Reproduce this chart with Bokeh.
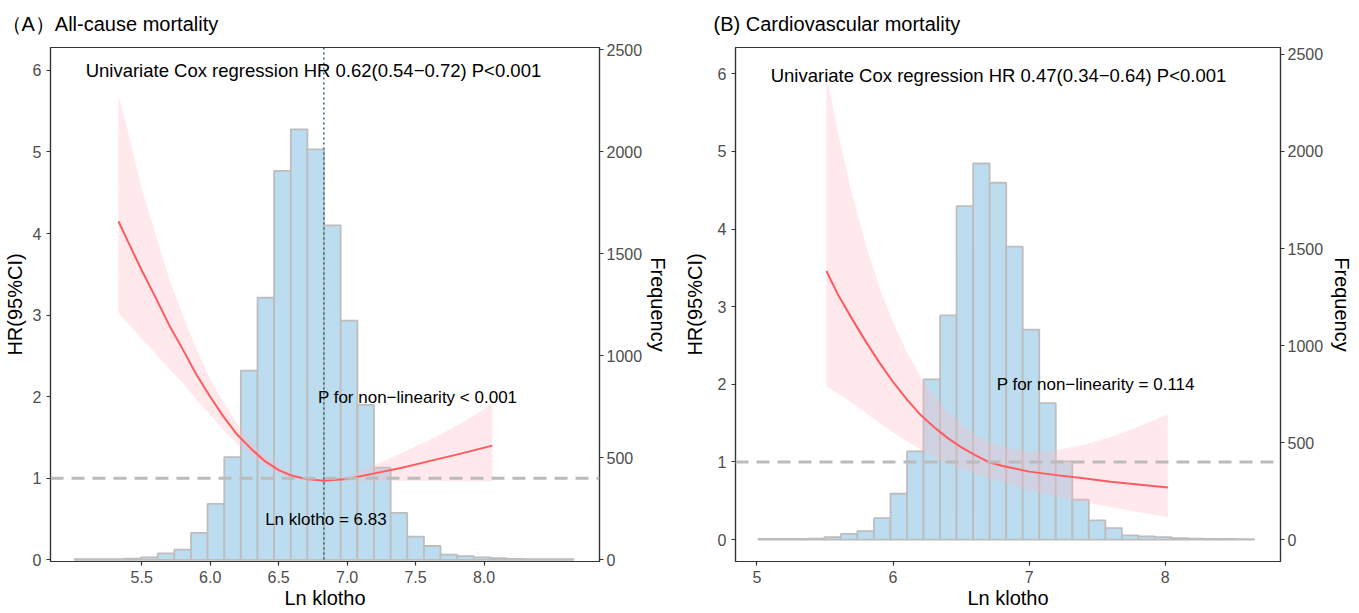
from bokeh.plotting import figure
from bokeh.models import Range1d, LinearAxis, FixedTicker, Span, Label, PrintfTickFormatter
from bokeh.layouts import row
from bokeh.embed import file_html
from bokeh.resources import INLINE

FONT = "Liberation Sans"

# ---------------- data ----------------
bin_edges = [5.009, 5.131, 5.252, 5.374, 5.495, 5.617, 5.738, 5.860, 5.981, 6.103,
             6.224, 6.346, 6.467, 6.589, 6.710, 6.832, 6.953, 7.075, 7.196, 7.318,
             7.439, 7.561, 7.682, 7.804, 7.925, 8.047, 8.168, 8.290, 8.411, 8.533, 8.654]

counts_A = [3, 3, 4, 6, 12, 32, 50, 132, 275, 504, 928, 1285, 1907, 2111, 2013,
            1640, 1173, 760, 452, 230, 114, 68, 26, 18, 12, 8, 5, 4, 3, 3]
counts_B = [3, 3, 3, 4, 12, 29, 43, 110, 236, 454, 825, 1155, 1718, 1938, 1839,
            1510, 1082, 703, 403, 206, 99, 59, 21, 16, 12, 7, 5, 3, 3, 2]

x_A = [5.33, 5.40, 5.50, 5.60, 5.70, 5.80, 5.90, 6.00, 6.10, 6.20, 6.30, 6.40, 6.50,
       6.60, 6.70, 6.83, 7.00, 7.20, 7.40, 7.60, 7.80, 8.06]
hr_A = [4.15, 3.90, 3.55, 3.22, 2.88, 2.58, 2.27, 2.00, 1.75, 1.53, 1.36, 1.21, 1.10,
        1.03, 0.99, 0.97, 0.99, 1.06, 1.13, 1.21, 1.29, 1.40]
up_A = [5.70, 5.25, 4.55, 4.00, 3.45, 3.00, 2.58, 2.22, 1.93, 1.66, 1.45, 1.28, 1.15,
        1.06, 1.00, 0.975, 1.03, 1.16, 1.31, 1.47, 1.64, 1.91]
lo_A = [3.02, 2.90, 2.71, 2.53, 2.34, 2.17, 1.96, 1.78, 1.59, 1.41, 1.28, 1.15, 1.06,
        1.00, 0.98, 0.965, 0.96, 0.965, 0.97, 0.97, 0.965, 0.96]

x_B = [5.51, 5.60, 5.70, 5.80, 5.90, 6.00, 6.10, 6.20, 6.30, 6.40, 6.50, 6.60, 6.70,
       6.80, 7.00, 7.20, 7.40, 7.60, 7.80, 8.02]
hr_B = [3.46, 3.14, 2.84, 2.55, 2.28, 2.03, 1.81, 1.61, 1.45, 1.31, 1.19, 1.09, 1.00,
        0.95, 0.875, 0.83, 0.79, 0.745, 0.71, 0.67]
up_B = [6.00, 5.20, 4.45, 3.80, 3.25, 2.80, 2.42, 2.10, 1.85, 1.65, 1.49, 1.36, 1.26,
        1.20, 1.13, 1.15, 1.22, 1.32, 1.45, 1.61]
lo_B = [1.97, 1.88, 1.76, 1.63, 1.50, 1.38, 1.27, 1.16, 1.06, 0.98, 0.91, 0.85, 0.79,
        0.74, 0.64, 0.55, 0.48, 0.42, 0.35, 0.29]

hr_ticks = [0, 1, 2, 3, 4, 5, 6]
freq_ticks = [0, 500, 1000, 1500, 2000, 2500]
x_ticks_A = [5.5, 6.0, 6.5, 7.0, 7.5, 8.0]
x_ticks_B = [5, 6, 7, 8]
freq_per_hr = 400  # secondary axis scale

title_A = "（A）All-cause mortality"
title_B = "(B) Cardiovascular mortality"
cox_A = "Univariate Cox regression HR 0.62(0.54\u22120.72) P<0.001"
cox_B = "Univariate Cox regression HR 0.47(0.34\u22120.64) P<0.001"
nl_A = "P for non\u2212linearity < 0.001"
nl_B = "P for non\u2212linearity = 0.114"
ref_label = "Ln klotho = 6.83"
ref_value = 6.83
x_title = "Ln klotho"
y_title = "HR(95%CI)"
y2_title = "Frequency"

BAR_FILL = "#BCDDF0"
BAR_LINE = "#BDBDBD"
RED = "#FF5A5F"
RIBBON = "#FFB6C1"
DARK = "#333333"
TICKTXT = "#4D4D4D"

H = 612
TOP = 47
BOTTOM = 51


def style_axis(ax, standoff, label, label_standoff):
    ax.major_tick_out = 4
    ax.major_tick_in = 0
    ax.minor_tick_line_color = None
    ax.major_tick_line_color = DARK
    ax.major_tick_line_width = 1.2
    ax.axis_line_color = DARK
    ax.axis_line_width = 1.2
    ax.major_label_text_font = FONT
    ax.major_label_text_font_size = "16px"
    ax.major_label_text_color = TICKTXT
    ax.major_label_standoff = standoff
    ax.axis_label = label
    ax.axis_label_text_font = FONT
    ax.axis_label_text_font_size = "20px"
    ax.axis_label_text_font_style = "normal"
    ax.axis_label_text_color = "black"
    ax.axis_label_standoff = label_standoff


def panel(width, bl, br, xr, yr, counts, xs, hr, lo, up, xticks, xfmt,
          title, title_off, cox, cox_xy, nl, nl_xy, hr_so, fr_so, ref=None):
    p = figure(width=width, height=H, x_range=Range1d(*xr), y_range=Range1d(*yr),
               output_backend="svg", toolbar_location=None,
               min_border_left=bl, min_border_right=br, min_border_top=TOP,
               min_border_bottom=BOTTOM)
    p.extra_y_ranges = {"freq": Range1d(yr[0] * freq_per_hr, yr[1] * freq_per_hr)}
    p.xgrid.visible = False
    p.ygrid.visible = False
    p.outline_line_color = DARK
    p.outline_line_width = 1.2
    p.background_fill_color = "white"

    p.title.text = title
    p.title.align = "left"
    p.title.offset = title_off
    p.title.standoff = 21
    p.title.vertical_align = "top"
    p.title.text_font = FONT
    p.title.text_font_size = "20px"
    p.title.text_font_style = "normal"
    p.title.text_color = "black"

    p.quad(left=bin_edges[:-1], right=bin_edges[1:], bottom=0, top=counts,
           y_range_name="freq", fill_color=BAR_FILL, line_color=BAR_LINE,
           line_width=1.8)
    p.varea(x=xs, y1=lo, y2=up, fill_color=RIBBON, fill_alpha=0.3)
    p.line(xs, hr, line_color=RED, line_width=2)
    p.add_layout(Span(location=1, dimension="width", line_color="#BBBBBB",
                      line_width=3, line_dash="13 8"))
    if ref is not None:
        p.add_layout(Span(location=ref, dimension="height", line_color="#1B6B78",
                          line_width=1.5, line_dash="2 3"))

    p.xaxis.ticker = FixedTicker(ticks=xticks)
    if xfmt:
        p.xaxis.formatter = PrintfTickFormatter(format=xfmt)
    p.yaxis.ticker = FixedTicker(ticks=hr_ticks)
    style_axis(p.xaxis[0], 5, x_title, 1)
    style_axis(p.yaxis[0], 5, y_title, hr_so)
    rax = LinearAxis(y_range_name="freq", ticker=FixedTicker(ticks=freq_ticks))
    style_axis(rax, 3, y2_title, fr_so)
    p.add_layout(rax, "right")

    def lab(text, x, y, size):
        p.add_layout(Label(x=x, y=y, text=text, text_align="center",
                           text_baseline="middle", text_font=FONT,
                           text_font_size=size, text_color="black"))
    lab(cox, cox_xy[0], cox_xy[1], "18.5px")
    lab(nl, nl_xy[0], nl_xy[1], "17px")
    return p


pA = panel(680, 49, 81, (4.834, 8.843), (-0.02, 6.28), counts_A, x_A, hr_A, lo_A, up_A,
           x_ticks_A, "%.1f", title_A, -49, cox_A, (6.754, 6.0), nl_A, (7.515, 1.99),
           4, 2, ref=ref_value)
pA.add_layout(Label(x=6.845, y=0.49, text=ref_label, text_align="center",
                    text_baseline="middle", text_font=FONT, text_font_size="17px",
                    text_color="black"))

pB = panel(679, 52, 79, (4.842, 8.848), (-0.283, 6.34), counts_B, x_B, hr_B, lo_B, up_B,
           x_ticks_B, None, title_B, -22, cox_B, (6.775, 5.98), nl_B, (7.49, 2.0),
           9, 5)

layout = row(pA, pB)
open("out.html", "w").write(file_html(layout, INLINE))
